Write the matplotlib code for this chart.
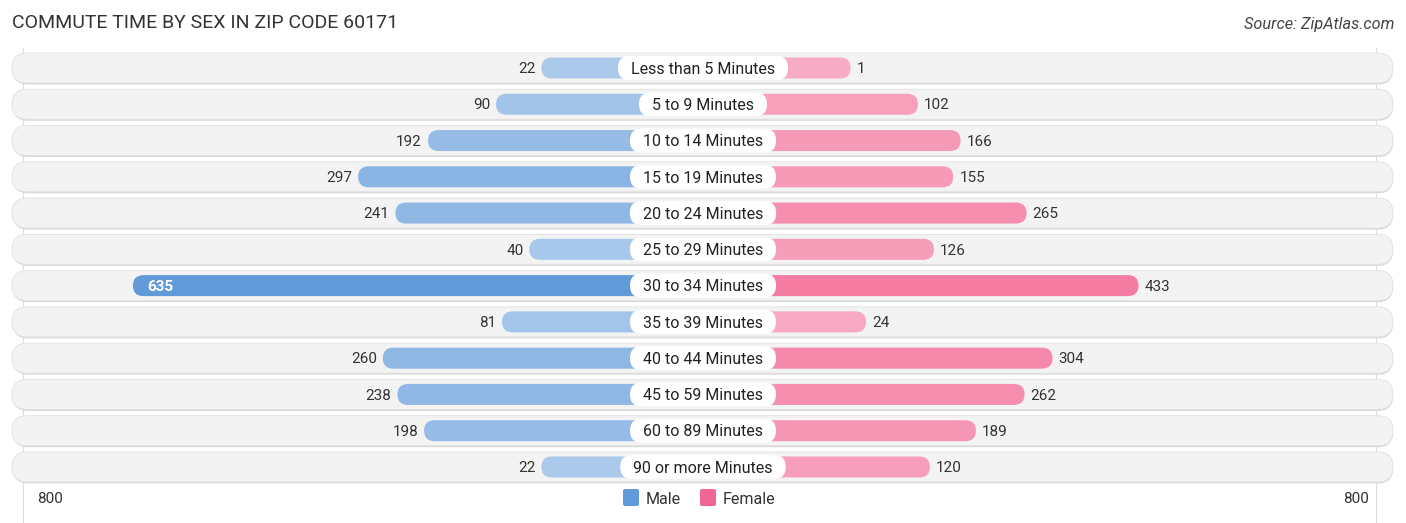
import matplotlib
matplotlib.use("Agg")
import matplotlib.pyplot as plt
from matplotlib.patches import FancyBboxPatch
import numpy as np

plt.rcParams["font.family"] = ["Roboto", "DejaVu Sans"]

categories = ["Less than 5 Minutes", "5 to 9 Minutes", "10 to 14 Minutes", "15 to 19 Minutes",
              "20 to 24 Minutes", "25 to 29 Minutes", "30 to 34 Minutes", "35 to 39 Minutes",
              "40 to 44 Minutes", "45 to 59 Minutes", "60 to 89 Minutes", "90 or more Minutes"]
male = [22, 90, 192, 297, 241, 40, 635, 81, 260, 238, 198, 22]
female = [1, 102, 166, 155, 265, 126, 433, 24, 304, 262, 189, 120]
axis_max = 800
title = "COMMUTE TIME BY SEX IN ZIP CODE 60171"
source = "Source: ZipAtlas.com"

W, H = 1406, 523
fig = plt.figure(figsize=(W / 100, H / 100), dpi=100)
ax = fig.add_axes([0, 0, 1, 1])
ax.set_xlim(0, W)
ax.set_ylim(H, 0)
ax.axis("off")
fig.patch.set_facecolor("white")

cx = 703.0
offset = 147.0
scale = (1383 - cx - offset) / axis_max
y0, dy = 68.0, 36.27
bar_h = 21.0
row_h = 30.0
ty = 1.2  # text baseline nudge

male_light = np.array(matplotlib.colors.to_rgb("#adcbec"))
male_dark = np.array(matplotlib.colors.to_rgb("#6199d9"))
fem_light = np.array(matplotlib.colors.to_rgb("#f7abc4"))
fem_dark = np.array(matplotlib.colors.to_rgb("#f26592"))
vmax = max(max(male), max(female))

for xv in (cx - 680, cx + 673):
    ax.plot([xv, xv], [y0 - 20, H], color="#dddddd", lw=0.8, zorder=0)

fig.canvas.draw()
renderer = fig.canvas.get_renderer()

for i, (cat, m, f) in enumerate(zip(categories, male, female)):
    yc = y0 + i * dy
    sh = FancyBboxPatch((13, yc - row_h / 2 + 1.5), 1380, row_h, boxstyle="round,pad=0,rounding_size=15",
                        fc="#d9d9d9", ec="none", zorder=1)
    ax.add_patch(sh)
    bg = FancyBboxPatch((12, yc - row_h / 2), 1381, row_h, boxstyle="round,pad=0,rounding_size=15",
                        fc="#f3f3f3", ec="#e0e0e0", lw=0.6, zorder=1)
    ax.add_patch(bg)
    lm = offset + m * scale
    cm = male_light + (male_dark - male_light) * (m / vmax)
    ax.add_patch(FancyBboxPatch((cx - lm, yc - bar_h / 2), lm, bar_h,
                                boxstyle="round,pad=0,rounding_size=10.5", fc=cm, ec="none", zorder=2))
    lf = offset + f * scale
    cf = fem_light + (fem_dark - fem_light) * (f / vmax)
    ax.add_patch(FancyBboxPatch((cx, yc - bar_h / 2), lf, bar_h,
                                boxstyle="round,pad=0,rounding_size=10.5", fc=cf, ec="none", zorder=2))
    if m > 500:
        ax.text(cx - lm + 14, yc + ty, f"{m}", ha="left", va="center", fontsize=11, color="white",
                fontweight="bold", zorder=4)
    else:
        ax.text(cx - lm - 6, yc + ty, f"{m}", ha="right", va="center", fontsize=11, color="#333333", zorder=4)
    ax.text(cx + lf + 6, yc + ty, f"{f}", ha="left", va="center", fontsize=11, color="#333333", zorder=4)
    t = ax.text(cx, yc + ty, cat, ha="center", va="center", fontsize=11.5, color="#222222", zorder=5)
    tw = t.get_window_extent(renderer=renderer).width
    bw = tw + 26
    bh = 24
    ax.add_patch(FancyBboxPatch((cx - bw / 2, yc - bh / 2), bw, bh,
                                boxstyle="round,pad=0,rounding_size=12", fc="white", ec="none", zorder=4))

ax.text(12, 23, title, ha="left", va="center", fontsize=14, color="#333333")
ax.text(1394, 25, source, ha="right", va="center", fontsize=11.7, color="#444444", style="italic")

ax.text(50, 499, "800", ha="center", va="center", fontsize=11, color="#333333")
ax.text(1356, 499, "800", ha="center", va="center", fontsize=11, color="#333333")

ax.add_patch(FancyBboxPatch((623, 489), 16, 17, boxstyle="round,pad=0,rounding_size=2",
                            fc="#6199d9", ec="none"))
ax.text(646, 499, "Male", ha="left", va="center", fontsize=11.5, color="#333333")
ax.add_patch(FancyBboxPatch((700, 489), 16, 17, boxstyle="round,pad=0,rounding_size=2",
                            fc="#f26592", ec="none"))
ax.text(723, 499, "Female", ha="left", va="center", fontsize=11.5, color="#333333")

fig.savefig("out.png", dpi=100, facecolor="white")
